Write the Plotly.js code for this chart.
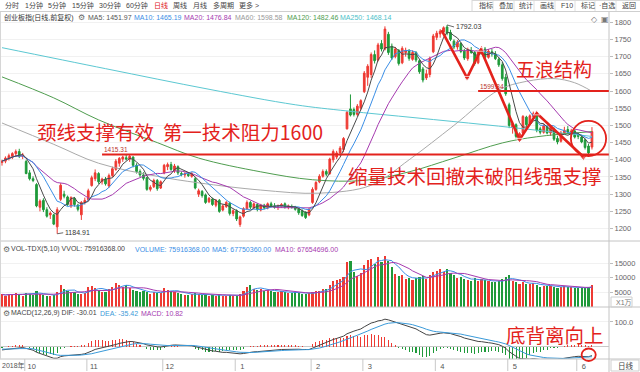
<!DOCTYPE html>
<html><head><meta charset="utf-8">
<script src="https://cdn.plot.ly/plotly-3.0.1.min.js"></script>
<style>html,body{margin:0;padding:0;background:#fff;}#chart{width:640px;height:372px;}</style>
</head><body><div id="chart"></div>
<script>
// ---------- data ----------
const openP = [1392,1396,1405,1410,1418,1424,1410,1395,1362,1345,1328,1262,1282,1255,1240,1240,1205,1285,1300,1292,1266,1288,1268,1240,1276,1284,1325,1345,1360,1336,1344,1324,1354,1372,1390,1402,1406,1402,1408,1384,1366,1356,1348,1314,1322,1340,1318,1362,1380,1386,1368,1380,1360,1356,1358,1352,1345,1300,1308,1298,1278,1286,1268,1282,1254,1264,1274,1244,1252,1212,1236,1258,1276,1260,1270,1254,1268,1260,1272,1266,1262,1264,1272,1262,1264,1262,1258,1252,1248,1240,1276,1314,1336,1352,1366,1360,1400,1408,1420,1430,1490,1548,1546,1532,1550,1598,1640,1648,1706,1690,1738,1722,1765,1730,1700,1718,1682,1712,1716,1692,1712,1688,1664,1638,1648,1714,1756,1766,1772,1786,1770,1745,1728,1738,1716,1694,1716,1712,1682,1712,1722,1698,1714,1708,1692,1676,1640,1560,1494,1502,1466,1478,1524,1506,1526,1532,1490,1480,1496,1478,1490,1462,1454,1478,1488,1476,1484,1474,1466,1458,1440,1437];
const highP = [1400,1410,1418,1422,1430,1432,1420,1400,1370,1352,1332,1285,1288,1262,1250,1243,1262,1332,1310,1296,1294,1292,1272,1280,1290,1316,1354,1372,1364,1348,1350,1360,1380,1402,1408,1412,1414,1415.31,1410,1390,1372,1364,1350,1326,1345,1344,1340,1388,1392,1394,1388,1384,1366,1364,1362,1364,1350,1316,1312,1302,1292,1290,1286,1286,1270,1280,1278,1256,1256,1238,1262,1282,1280,1276,1274,1272,1272,1276,1278,1274,1270,1274,1276,1270,1270,1266,1260,1256,1250,1260,1320,1338,1358,1372,1372,1406,1430,1426,1440,1466,1542,1590,1552,1562,1576,1658,1678,1712,1718,1740,1748,1788,1772,1738,1728,1722,1730,1726,1722,1718,1716,1692,1670,1662,1700,1766,1775,1780,1788,1792.03,1778,1750,1748,1742,1722,1726,1728,1716,1720,1730,1728,1722,1722,1716,1698,1684,1650,1566,1512,1506,1480,1530,1528,1532,1540,1536,1496,1504,1500,1498,1494,1470,1484,1496,1498,1490,1488,1478,1470,1462,1446,1495];
const lowP = [1383,1390,1398,1402,1408,1405,1402,1358,1340,1335,1262,1250,1248,1232,1228,1210,1184.91,1280,1288,1266,1260,1264,1250,1225,1270,1280,1322,1338,1330,1328,1325,1318,1350,1368,1380,1394,1398,1394,1378,1360,1350,1340,1310,1308,1318,1310,1315,1358,1370,1368,1362,1356,1352,1348,1350,1348,1314,1292,1290,1272,1274,1266,1262,1246,1250,1260,1238,1236,1222,1205,1232,1254,1256,1256,1250,1250,1256,1256,1262,1258,1254,1260,1258,1256,1258,1252,1240,1234,1228,1236,1272,1310,1332,1348,1352,1356,1392,1402,1412,1422,1488,1526,1526,1526,1544,1594,1615,1638,1680,1686,1715,1718,1705,1690,1695,1674,1678,1700,1688,1688,1684,1650,1625,1632,1640,1710,1748,1755,1765,1762,1745,1722,1720,1710,1690,1688,1708,1674,1678,1706,1692,1694,1700,1690,1670,1630,1586,1492,1476,1462,1456,1474,1496,1502,1518,1480,1474,1476,1474,1470,1455,1445,1450,1474,1474,1470,1462,1460,1448,1430,1414,1430];
const closeP = [1396,1405,1412,1418,1424,1410,1414,1360,1345,1340,1266,1280,1255,1236,1245,1213,1255,1326,1294,1270,1290,1270,1256,1276,1282,1310,1348,1362,1336,1344,1330,1354,1374,1396,1404,1408,1402,1410,1384,1366,1356,1346,1314,1320,1340,1316,1336,1384,1386,1372,1382,1362,1358,1360,1354,1360,1318,1310,1296,1276,1288,1270,1282,1250,1266,1276,1244,1252,1228,1234,1258,1276,1262,1272,1256,1268,1260,1272,1266,1262,1266,1270,1262,1266,1262,1256,1246,1238,1232,1256,1314,1334,1352,1366,1358,1402,1424,1420,1434,1462,1538,1530,1532,1556,1572,1652,1672,1706,1688,1734,1722,1780,1712,1696,1722,1680,1724,1718,1695,1712,1690,1656,1632,1650,1694,1760,1768,1774,1784,1768,1750,1728,1742,1715,1696,1720,1712,1680,1714,1724,1698,1716,1708,1694,1676,1636,1592,1500,1504,1468,1476,1526,1502,1528,1534,1486,1480,1498,1478,1494,1460,1452,1478,1486,1480,1484,1466,1468,1452,1436,1420,1482];
const volume = [4300,3900,4500,4100,4800,4400,3900,
  4900,4600,4200,5600,4400,4100,3900,3700,4200,5200,
  7500,6200,5400,4800,5000,4400,4600,4900,
  6800,7200,6500,5800,5200,5000,6200,6900,8200,7400,6900,7600,6600,
  5800,5400,5000,5600,5200,4600,5000,4800,4900,6400,5800,5400,5200,4900,4500,4200,4000,4300,4800,4400,4200,
  4300,3900,4100,3800,4200,3700,3900,4000,3600,3900,4600,
  5400,6800,7500,6200,5800,6100,5600,5900,5400,5200,5000,5300,5100,4900,4800,5000,
  4700,4500,4300,4800,5000,5400,5600,6200,
  6000,7500,8800,9200,9600,10300,
  15200,15800,11800,10500,11600,14200,16000,16400,14500,17100,15200,17400,15600,13700,
  11200,10400,10800,9600,9900,9200,9800,10200,10600,9400,
  11000,12000,12400,12900,11800,13000,11500,11000,9800,
  10200,9600,9200,8800,9800,9000,9400,9100,8700,8400,8600,9000,9400,10200,
  10800,9000,8400,7800,8600,8000,7800,8200,7600,6900,7200,7000,7200,6800,6600,6800,7200,6700,6900,6500,6600,6400,6500,6800,7592];
// long moving averages (trading-day index, value)
const ma60Idx  = [0,15,28,45,57,75,92,107,118,131,144,152,160,166,171];
const ma60Val  = [1507,1445,1390,1352,1333,1312,1303,1326,1400,1500,1603,1628,1636,1624,1599];
const ma120Idx = [0,15,28,45,57,75,90,105,118,131,145,155,171];
const ma120Val = [1641,1580,1516,1450,1405,1365,1342,1340,1365,1405,1449,1467,1482];
const ma250Idx = [0,30,60,85,100,120,140,155,171];
const ma250Val = [1726,1665,1605,1560,1542,1522,1502,1486,1468];
// MACD state at the left edge
const difStart = -13, deaStart = -10;
// month ticks: index of first trading day of each month
const monthTickIdx = [7,25,47,68,90,105,126,147,167];
const monthTickLabels = ['10','11','12','1','2','3','4','5','6'];
// hand-drawn five-wave path (index, price)
const waveIdx = [127.4,134.8,138.8,150,155,168.5];
const wavePrice = [1777,1638,1720,1458,1535,1409];
const neckline = 1415.31, resistance = 1599.34;

// ---------- derived indicators ----------
const N = closeP.length;
const idx = Array.from({length:N},(_,i)=>i);
function sma(a,n){return a.map((_,i)=>{const s=Math.max(0,i-n+1);let t=0;for(let k=s;k<=i;k++)t+=a[k];return t/(i-s+1);});}
function ema(a,n,init){const k=2/(n+1);const o=[];a.forEach((v,i)=>o.push(i===0?(init===undefined?v:init):k*v+(1-k)*o[i-1]));return o;}
const ma5=sma(closeP,5), ma10=sma(closeP,10), ma20=sma(closeP,20);
const e12=ema(closeP,12), e26=ema(closeP,26,closeP[0]-difStart);
const dif=e12.map((v,i)=>v-e26[i]); const dea=ema(dif,9,deaStart);
const hist=dif.map((v,i)=>2*(v-dea[i]));
const vma5=sma(volume,5), vma10=sma(volume,10);
const up=idx.map(i=>closeP[i]>=openP[i]);

const RED='#ee3a33', GRN='#1f9a3a', ARED='#e3221c';
const F='Liberation Sans, "Noto Sans CJK SC", sans-serif';
const CJK='"Noto Sans CJK SC", sans-serif';

// pixel -> paper helpers (plot area: x 1..609, y 12..359)
const PL=1, PR=609, PT=12, PB=359;
const px=x=>(x-PL)/(PR-PL), py=y=>(PB-y)/(PB-PT);

const traces=[
 {type:'candlestick',x:idx,open:openP,high:highP,low:lowP,close:closeP,xaxis:'x',yaxis:'y',
  increasing:{line:{color:RED,width:1},fillcolor:RED},decreasing:{line:{color:GRN,width:1},fillcolor:GRN},
  whiskerwidth:0,hoverinfo:'skip',showlegend:false},
 {type:'scatter',mode:'lines',x:ma250Idx,y:ma250Val,line:{color:'#5cc8d2',width:1,shape:'spline'},hoverinfo:'skip'},
 {type:'scatter',mode:'lines',x:ma120Idx,y:ma120Val,line:{color:'#4f9d4f',width:1,shape:'spline'},hoverinfo:'skip'},
 {type:'scatter',mode:'lines',x:ma60Idx,y:ma60Val,line:{color:'#aaaaaa',width:1,shape:'spline'},hoverinfo:'skip'},
 {type:'scatter',mode:'lines',x:idx,y:ma20,line:{color:'#a63bb0',width:1},hoverinfo:'skip'},
 {type:'scatter',mode:'lines',x:idx,y:ma10,line:{color:'#3a8ee6',width:1},hoverinfo:'skip'},
 {type:'scatter',mode:'lines',x:idx,y:ma5,line:{color:'#4a4a4a',width:1},hoverinfo:'skip'},
 {type:'scatter',mode:'lines+markers',x:waveIdx,y:wavePrice,line:{color:ARED,width:2.6},
  marker:{color:ARED,size:[0,6,6,6,6,8],symbol:['circle','triangle-down','triangle-up','triangle-down','triangle-up','triangle-down']},hoverinfo:'skip'},
 {type:'bar',x:idx,y:volume,xaxis:'x',yaxis:'y2',width:0.62,marker:{color:up.map(u=>u?RED:GRN),line:{width:0}},hoverinfo:'skip'},
 {type:'scatter',mode:'lines',x:idx,y:vma5,xaxis:'x',yaxis:'y2',line:{color:'#3a8ee6',width:1},hoverinfo:'skip'},
 {type:'scatter',mode:'lines',x:idx,y:vma10,xaxis:'x',yaxis:'y2',line:{color:'#a63bb0',width:1},hoverinfo:'skip'},
 {type:'bar',x:idx,y:hist,xaxis:'x',yaxis:'y3',width:0.3,marker:{color:hist.map(h=>h>=0?RED:GRN),line:{width:0}},hoverinfo:'skip'},
 {type:'scatter',mode:'lines',x:idx,y:dif,xaxis:'x',yaxis:'y3',line:{color:'#444444',width:1},hoverinfo:'skip'},
 {type:'scatter',mode:'lines',x:idx,y:dea,xaxis:'x',yaxis:'y3',line:{color:'#3a9ad9',width:1},hoverinfo:'skip'}
];

function T(x,y,text,color,size,font,anchor){return {xref:'paper',yref:'paper',x:px(x),y:py(y),text:text,showarrow:false,
  xanchor:anchor||'left',yanchor:'middle',font:{family:font||F,size:size||7,color:color||'#333'}};}

const ann=[];
// top toolbar
[['分时',3],['1分钟',22.6],['5分钟',46],['15分钟',69.8],['30分钟',97],['60分钟',124.4],['日线',151.7],['周线',171.3],['月线',190.9],['多周期',210.5],['更多 >',237]]
 .forEach(([t,x])=>ann.push(T(x,6,t,t==='日线'?'#e02020':'#444',7)));
[['指标',477],['叠加',497],['统计',517],['画线',538],['F10',559],['标记',579],['·自选',597],['返回',620]]
 .forEach(([t,x])=>ann.push(T(x,6,t,'#444',7)));
// info line
ann.push(T(2,17,'创业板指(日线,前复权)','#333',7));
ann.push(T(76,17,'⚙','#666',8,'DejaVu Sans'));
ann.push(T(86,17,'MA5: 1451.97','#555',7));
ann.push(T(132,17,'MA10: 1465.19','#3a8ee6',7));
ann.push(T(182,17,'MA20: 1476.84','#a63bb0',7));
ann.push(T(233,17,'MA60: 1598.58','#999',7));
ann.push(T(285,17,'MA120: 1482.46','#4f9d4f',7));
ann.push(T(338,17,'MA250: 1468.14','#4cbfc9',7));
ann.push(T(589,20,'◇','#777',8,'DejaVu Sans'));
ann.push(T(599,20,'▣','#777',8,'DejaVu Sans'));
// volume header
ann.push(T(1,249,'⚙','#666',8,'DejaVu Sans'));
ann.push(T(9,249,'VOL-TDX(5,10) VVOL: 75916368.00','#444',7));
ann.push(T(133,249,'VOLUME: 75916368.00','#3a8ee6',7));
ann.push(T(210,249,'MA5: 67750360.00','#3a8ee6',7));
ann.push(T(273,249,'MA10: 67654696.00','#a63bb0',7));
// macd header
ann.push(T(1,313,'⚙','#666',8,'DejaVu Sans'));
ann.push(T(9,313,'MACD(12,26,9) DIF: -30.01','#444',7));
ann.push(T(98,313,'DEA: -35.42','#3a9ad9',7));
ann.push(T(139,313,'MACD: 10.82','#a63bb0',7));
// right side
ann.push(T(614,302.5,'X1万','#777',7));
ann.push(T(616,365.5,'日线','#444',7.5));
ann.push(T(0,365.5,'2018年','#555',7));
// price labels
ann.push({xref:'x',yref:'y',x:129,y:1792.03,ax:7,ay:2,text:'1792.03',showarrow:true,arrowhead:0,arrowwidth:0.8,arrowcolor:'#444',standoff:0,xanchor:'left',yanchor:'middle',font:{family:F,size:7,color:'#333'}});
ann.push({xref:'x',yref:'y',x:16,y:1184.91,ax:6,ay:-1,text:'1184.91',showarrow:true,arrowhead:0,arrowwidth:0.8,arrowcolor:'#444',standoff:0,xanchor:'left',yanchor:'middle',font:{family:F,size:7,color:'#333'}});
ann.push({xref:'x',yref:'y',x:29,y:neckline,yshift:5.5,text:neckline.toFixed(2),showarrow:false,xanchor:'left',yanchor:'middle',font:{family:F,size:6.5,color:'#b8322c'}});
ann.push({xref:'x',yref:'y',x:138,y:resistance,yshift:5,text:resistance.toFixed(2),showarrow:false,xanchor:'left',yanchor:'middle',font:{family:F,size:6.5,color:'#b8322c'}});
// hand-written comments
ann.push({xref:'paper',yref:'paper',x:px(35),y:py(131),text:'颈线支撑有效\u00a0\u00a0第一技术阻力1600',showarrow:false,xanchor:'left',yanchor:'middle',font:{family:CJK,size:19.5,color:ARED}});
ann.push({xref:'paper',yref:'paper',x:px(554),y:py(68),text:'五浪结构',showarrow:false,xanchor:'center',yanchor:'middle',font:{family:CJK,size:19,color:ARED}});
ann.push({xref:'paper',yref:'paper',x:px(475),y:py(175),text:'缩量技术回撤未破阳线强支撑',showarrow:false,xanchor:'center',yanchor:'middle',font:{family:CJK,size:19.5,color:ARED}});
ann.push({xref:'paper',yref:'paper',x:px(555),y:py(334),text:'底背离向上',showarrow:false,xanchor:'center',yanchor:'middle',font:{family:CJK,size:19.5,color:ARED}});

const L=(x0,y0,x1,y1,c,w)=>({type:'line',xref:'paper',yref:'paper',x0:px(x0),y0:py(y0),x1:px(x1),y1:py(y1),line:{color:c||'#c8c8c8',width:w||1},layer:'above'});
const shapes=[
 L(0,11.5,640,11.5,'#cfcfcf'), L(0,241,640,241,'#c4c4c4'), L(0,307,640,307,'#c4c4c4'), L(0,359,640,359,'#c4c4c4'),
 L(609,12,609,372,'#c4c4c4'), L(0.5,12,0.5,359,'#d6d6d6'),
 L(472,0.5,640,0.5,'#d8d8d8'), L(472,0,472,11.5,'#d8d8d8'),
 L(493,1,493,11,'#e0e0e0'),L(514,1,514,11,'#e0e0e0'),L(534,1,534,11,'#e0e0e0'),L(555,1,555,11,'#e0e0e0'),
 L(575,1,575,11,'#e0e0e0'),L(595,1,595,11,'#e0e0e0'),L(616,1,616,11,'#e0e0e0'),
 {type:'rect',xref:'paper',yref:'paper',x0:px(611),y0:py(297),x1:px(632),y1:py(307),line:{color:'#cfcfcf',width:1}},
 {type:'rect',xref:'paper',yref:'paper',x0:px(611),y0:py(360),x1:px(639),y1:py(371),line:{color:'#cfcfcf',width:1}},
 // red annotation lines
 {type:'line',xref:'x',yref:'y',x0:29,x1:175.9,y0:neckline,y1:neckline,line:{color:ARED,width:2},layer:'above'},
 {type:'line',xref:'x',yref:'y',x0:138,x1:175.9,y0:1600,y1:1600,line:{color:ARED,width:2},layer:'above'},
 {type:'circle',xref:'x',yref:'y',x0:164.9,x1:175.1,y0:1411,y1:1513,line:{color:ARED,width:1.8},layer:'above'},
 {type:'circle',xref:'x',yref:'paper',x0:168,x1:172.1,y0:py(361),y1:py(348.5),line:{color:ARED,width:1.8},layer:'above'}
];
monthTickIdx.forEach(t=>shapes.push({type:'line',xref:'x',yref:'paper',x0:t-0.4,x1:t-0.4,y0:py(359),y1:py(371),line:{color:'#c8c8c8',width:1}}));

const layout={
 width:640,height:372,margin:{l:PL,r:640-PR,t:PT,b:372-PB},paper_bgcolor:'#fff',plot_bgcolor:'#fff',showlegend:false,
 font:{family:F,size:7,color:'#555'},bargap:0,
 xaxis:{domain:[0,1],range:[-0.29,175.94],anchor:'y3',rangeslider:{visible:false},showgrid:false,zeroline:false,showline:false,
   tickmode:'array',tickvals:monthTickIdx.map(t=>t-0.4),ticktext:monthTickLabels,ticks:'',ticklabelshift:7,ticklabelstandoff:1,
   tickfont:{family:F,size:7.5,color:'#555'},fixedrange:true},
 yaxis:{domain:[118/347,1],range:[1163.9,1829.7],side:'right',tickmode:'array',tickvals:[1200,1250,1300,1350,1400,1450,1500,1550,1600,1650,1700,1750,1800],
   ticks:'outside',ticklen:3,tickcolor:'#bdbdbd',tickfont:{family:F,size:7.5,color:'#666'},gridcolor:'#f1f1f1',zeroline:false,showline:false,fixedrange:true},
 yaxis2:{domain:[52/347,118/347],range:[0,22500],side:'right',anchor:'x',tickmode:'array',tickvals:[5000,10000,15000],ticktext:['5000','10000','15000'],
   ticks:'outside',ticklen:3,tickcolor:'#bdbdbd',tickfont:{family:F,size:7.5,color:'#666'},gridcolor:'#f1f1f1',zeroline:false,showline:false,fixedrange:true},
 yaxis3:{domain:[0,52/347],range:[-49.8,160.7],side:'right',anchor:'x',tickmode:'array',tickvals:[100],ticktext:['100.0'],
   ticks:'outside',ticklen:3,tickcolor:'#bdbdbd',tickfont:{family:F,size:7.5,color:'#666'},gridcolor:'#f1f1f1',
   zeroline:true,zerolinecolor:'#c8c8c8',zerolinewidth:1,showline:false,fixedrange:true},
 annotations:ann,shapes:shapes
};
Plotly.newPlot('chart',traces,layout,{displayModeBar:false,staticPlot:true});
</script></body></html>
